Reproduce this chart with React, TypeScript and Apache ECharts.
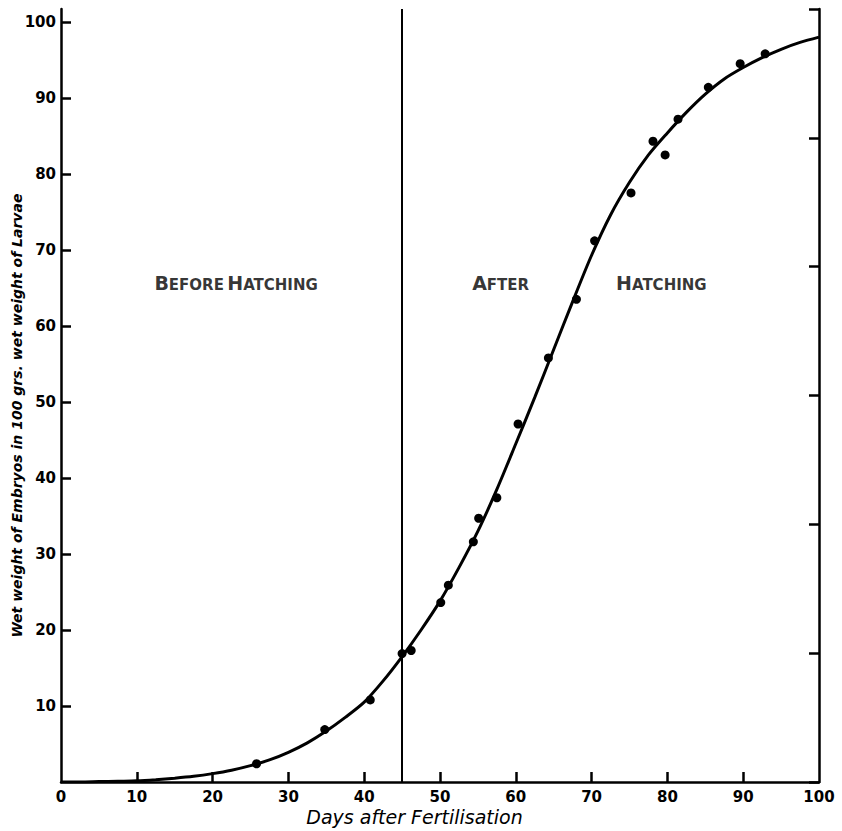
import React, { useEffect, useRef } from "react";
import * as echarts from "echarts";

// ---- data ----
const xTickValues = [10, 20, 30, 40, 50, 60, 70, 80, 90];
const xLabelValues = [0, 10, 20, 30, 40, 50, 60, 70, 80, 90, 100];
const yTickValues = [10, 20, 30, 40, 50, 60, 70, 80, 90, 100];

const observedDays = [25.8, 34.8, 40.8, 45.0, 46.2, 50.1, 51.1, 54.4, 55.1, 57.5, 60.3, 64.3, 68.0, 70.4, 75.2, 78.1, 79.7, 81.4, 85.4, 89.6, 92.9];
const observedWeights = [2.4, 6.9, 10.8, 16.9, 17.3, 23.6, 25.9, 31.6, 34.7, 37.4, 47.1, 55.8, 63.5, 71.2, 77.5, 84.3, 82.5, 87.2, 91.4, 94.5, 95.8];

const curveDays = [0, 2.5, 5, 7.5, 10, 12.5, 15, 17.5, 20, 22.5, 25, 27.5, 30, 32.5, 35, 37.5, 40, 42.5, 45, 47.5, 50, 52.5, 55, 57.5, 60, 62.5, 65, 67.5, 70, 72.5, 75, 77.5, 80, 82.5, 85, 87.5, 90, 92.5, 95, 97.5, 100];
const curveWeights = [0, 0, 0.05, 0.1, 0.15, 0.3, 0.5, 0.75, 1.1, 1.55, 2.15, 2.9, 3.9, 5.15, 6.7, 8.5, 10.5, 13.3, 16.5, 20.0, 23.8, 28.2, 33.0, 38.5, 44.5, 50.6, 56.9, 63.2, 69.3, 74.6, 78.9, 82.5, 85.4, 88.1, 90.5, 92.5, 94.0, 95.3, 96.4, 97.3, 98.0];

const hatchingDay = 45;

const annotationTexts = ["{b|B}{s|EFORE} {b|H}{s|ATCHING}", "{b|A}{s|FTER}", "{b|H}{s|ATCHING}"];
const annotationDays = [23.1, 58.0, 79.2];
const annotationWeights = [65.7, 65.7, 65.7];

const xAxisTitle = "Days after Fertilisation";
const yAxisTitle = "Wet weight of Embryos in 100 grs. wet weight of Larvae";

const FONT = "DejaVu Sans";

export default function App() {
  const ref = useRef<HTMLDivElement>(null);
  useEffect(() => {
    document.body.style.margin = "0";
    if (!ref.current) return;
    const chart = echarts.init(ref.current, null, { renderer: "svg" });
    const axisLine = { show: true, onZero: false, lineStyle: { color: "#000", width: 2.5 } };
    chart.setOption({
      animation: false,
      backgroundColor: "#fff",
      grid: { left: 61, right: 23, top: 9, bottom: 49, containLabel: false, outerBoundsMode: "none" },
      xAxis: {
        type: "value",
        min: 0,
        max: 100,
        interval: 10,
        axisLine,
        axisTick: { show: true, inside: true, length: 10, customValues: xTickValues, lineStyle: { color: "#000", width: 2.5 } },
        axisLabel: { customValues: xLabelValues, color: "#000", fontSize: 15, fontWeight: "bold", fontFamily: FONT, margin: 7 },
        splitLine: { show: false },
        name: xAxisTitle,
        nameLocation: "middle",
        nameGap: 25,
        nameMoveOverlap: false,
        nameTextStyle: { fontFamily: FONT, fontStyle: "italic", fontSize: 19, color: "#000", padding: [0, 51, 0, 0] },
      },
      yAxis: [
        {
          type: "value",
          min: 0,
          max: 101.7,
          axisLine,
          axisTick: { show: true, inside: true, length: 10, customValues: yTickValues, lineStyle: { color: "#000", width: 2.5 } },
          axisLabel: { customValues: yTickValues, color: "#000", fontSize: 15, fontWeight: "bold", fontFamily: FONT, margin: 5 },
          splitLine: { show: false },
          name: yAxisTitle,
          nameLocation: "middle",
          nameRotate: 90,
          nameGap: 37,
          nameMoveOverlap: false,
          nameTextStyle: { fontFamily: FONT, fontStyle: "italic", fontWeight: "bold", fontSize: 14, color: "#000", padding: [0, 40, 0, 0] },
        },
        {
          type: "value",
          position: "right",
          min: 0,
          max: 6,
          interval: 1,
          axisLine,
          axisTick: { show: true, inside: true, length: 10, lineStyle: { color: "#000", width: 2.5 } },
          axisLabel: { show: false },
          splitLine: { show: false },
        },
      ],
      series: [
        {
          type: "line",
          data: curveDays.map((d, i) => [d, curveWeights[i]]),
          smooth: 0.3,
          showSymbol: false,
          lineStyle: { color: "#000", width: 3 },
          silent: true,
          markLine: {
            silent: true,
            symbol: "none",
            label: { show: false },
            lineStyle: { color: "#000", width: 2, type: "solid" },
            data: [{ xAxis: hatchingDay }],
          },
        },
        {
          type: "scatter",
          data: observedDays.map((d, i) => [d, observedWeights[i]]),
          symbolSize: 9,
          itemStyle: { color: "#000", opacity: 1 },
        },
        {
          type: "scatter",
          data: annotationDays.map((d, i) => ({ value: [d, annotationWeights[i]], text: annotationTexts[i] })),
          symbolSize: 0,
          silent: true,
          label: {
            show: true,
            position: "inside",
            color: "#000",
            textBorderWidth: 0,
            formatter: (p: any) => p.data.text,
            rich: {
              b: { fontFamily: FONT, fontWeight: "bold", fontSize: 19, color: "#000", lineHeight: 20, verticalAlign: "bottom" },
              s: { fontFamily: FONT, fontWeight: "bold", fontSize: 15, color: "#000", lineHeight: 20, verticalAlign: "bottom" },
            },
          },
        },
      ],
    });
    return () => chart.dispose();
  }, []);
  return <div ref={ref} style={{ width: 842, height: 831 }} />;
}
